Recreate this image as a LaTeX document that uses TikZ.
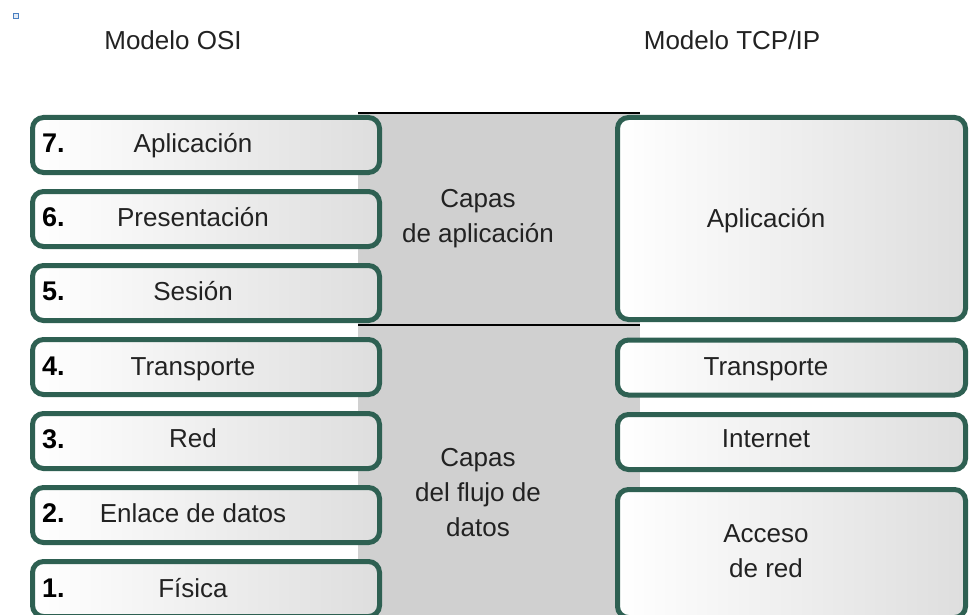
\documentclass[tikz,border=0pt]{standalone}
\usepackage{fontspec}
\setmainfont{Liberation Sans}
\definecolor{boxgreen}{RGB}{46,96,82}
\definecolor{bandgray}{RGB}{208,208,208}
\definecolor{txt}{RGB}{34,34,34}
\definecolor{sqblue}{RGB}{74,127,193}
\tikzset{
  layerbox/.style={draw=boxgreen, line width=5pt, rounded corners=11pt,
    left color=white, right color=black!13, inner sep=0pt,
    minimum width=347pt, minimum height=55pt},
  tcpbox/.style={layerbox, minimum width=348pt},
  lbl/.style={font=\fontsize{26}{35}\selectfont, text=txt, inner sep=0pt, anchor=base, align=center},
  num/.style={font=\fontsize{27}{30}\selectfont\bfseries, text=black, inner sep=0pt, anchor=base west},
  sep/.style={draw=black, line width=1.5pt}
}
\begin{document}
\begin{tikzpicture}[x=1pt,y=-1pt]
\useasboundingbox (0,0) rectangle (974,615);
\clip (0,0) rectangle (974,615);
% marker
\node[draw=sqblue, fill=sqblue!15, line width=1.2pt, minimum size=5pt, inner sep=0pt] (mark) at (16,16) {};
% titles
\node[lbl] (tosi) at (173,50) {Modelo OSI};
\node[lbl] (ttcp) at (732,50) {Modelo TCP/IP};
% grey band
\fill[bandgray] (358,113) rectangle (640,620);
\coordinate (a1) at (358,113); \coordinate (a2) at (640,113);
\coordinate (b1) at (358,325); \coordinate (b2) at (640,325);
\draw[sep] (a1) -- (a2);
\draw[sep] (b1) -- (b2);
\node[lbl] (capapp) at (478,242) {Capas\\de aplicación};
\node[lbl] (capflu) at (478,536) {Capas\\del flujo de\\datos};
% OSI boxes
\node[layerbox] (l7) at (206,145) {};
\node[layerbox] (l6) at (206,219) {};
\node[layerbox] (l5) at (206,293) {};
\node[layerbox] (l4) at (206,367) {};
\node[layerbox] (l3) at (206,441) {};
\node[layerbox] (l2) at (206,515) {};
\node[layerbox] (l1) at (206,589) {};
\node[num] (n7) at (42,152) {7.};
\node[num] (n6) at (42,226) {6.};
\node[num] (n5) at (42,300) {5.};
\node[num] (n4) at (42,375) {4.};
\node[num] (n3) at (42,448) {3.};
\node[num] (n2) at (42,522) {2.};
\node[num] (n1) at (42,597) {1.};
\node[lbl] (t7) at (193,152) {Aplicación};
\node[lbl] (t6) at (193,226) {Presentación};
\node[lbl] (t5) at (193,300) {Sesión};
\node[lbl] (t4) at (193,375) {Transporte};
\node[lbl] (t3) at (193,447) {Red};
\node[lbl] (t2) at (193,522) {Enlace de datos};
\node[lbl] (t1) at (193,597) {Física};
% TCP/IP boxes
\node[tcpbox, minimum height=202pt] (rapp) at (791.5,218.5) {};
\node[tcpbox] (rtra) at (791.5,367.5) {};
\node[tcpbox] (rint) at (791.5,442) {};
\node[tcpbox, minimum height=128pt] (racc) at (791.5,553.5) {};
\node[lbl] (tapp) at (766,227) {Aplicación};
\node[lbl] (ttra) at (766,375) {Transporte};
\node[lbl] (tint) at (766,447) {Internet};
\node[lbl] (tacc) at (766,577) {Acceso\\de red};
\end{tikzpicture}
\end{document}
